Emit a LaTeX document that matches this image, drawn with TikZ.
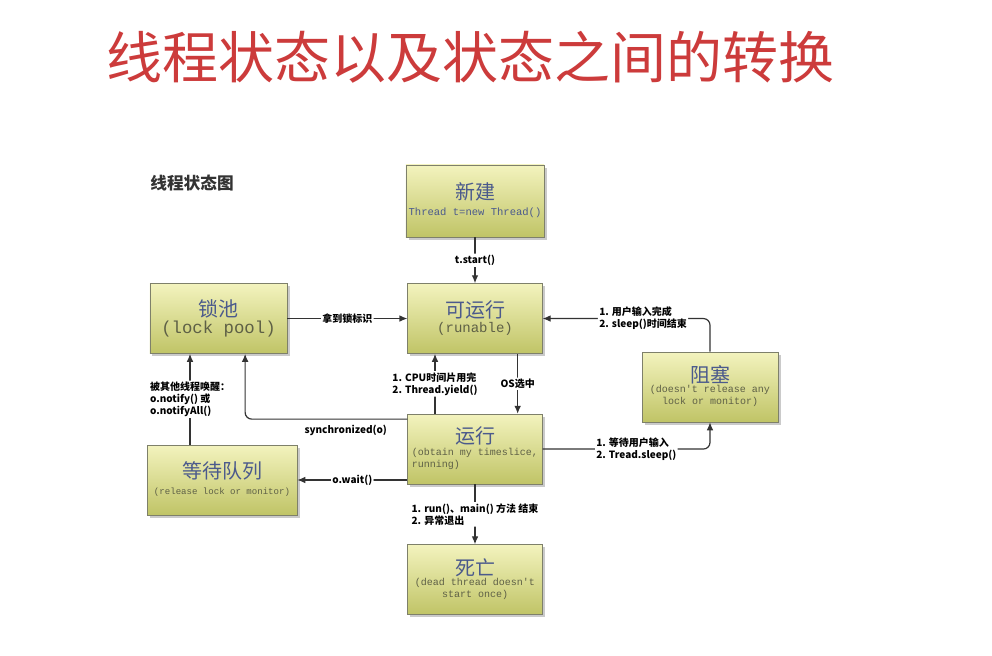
\documentclass[tikz,border=0pt]{standalone}
\usepackage{fontspec}
\setmainfont{Noto Sans CJK SC}
\setmonofont{Liberation Mono}
\usepackage{xcolor}
\usetikzlibrary{arrows.meta,positioning,shadows}
\definecolor{TitleRed}{HTML}{CC3B3B}
\definecolor{BoxTop}{HTML}{F3F3BE}
\definecolor{BoxBottom}{HTML}{C0C466}
\definecolor{BoxEdge}{HTML}{7E806A}
\definecolor{NameBlue}{HTML}{4B5A8C}
\definecolor{SubOlive}{HTML}{5E6046}

\newcommand\stname[1]{{\fontsize{15}{18}\selectfont\color{NameBlue}#1}}
\newcommand\stsub[2][7.5]{{\ttfamily\fontsize{#1}{9}\selectfont\color{SubOlive}\begin{tabular}{@{}c@{}}#2\end{tabular}}}

\begin{document}
\begin{tikzpicture}[
  x=0.75pt, y=-0.75pt,
  node distance=45pt and 90pt,
  state/.style={draw=BoxEdge, thin, top color=BoxTop, bottom color=BoxBottom, align=center,
    minimum width=101pt, minimum height=52.5pt, inner sep=2pt,
    drop shadow={shadow xshift=2pt, shadow yshift=-2pt, opacity=0.35, fill=black!60}},
  lbl/.style={font=\bfseries\fontsize{7.5}{9}\selectfont, fill=white, inner sep=1pt, align=left},
  arr/.style={-{Latex[length=6pt,width=5pt]}, line width=0.9pt, draw=black!80, rounded corners=5pt}
]
\useasboundingbox (0,0) rectangle (992,656);

% title
\node[text=TitleRed, font=\fontsize{42}{46}\selectfont] (title) at (470,57) {线程状态以及状态之间的转换};
\node[font=\bfseries\fontsize{12.5}{14}\selectfont, text=black!80] (caption) at (192,183) {线程状态图};

% states
\node[state, minimum height=54pt] (new) at (475,201) {\stname{新建}\\\stsub[7.9]{\color{NameBlue}Thread t=new Thread()}};
\node[state, below=34.5pt of new] (runnable) {\stname{可运行}\\\stsub[10.5]{(runable)}};
\node[state, left=of runnable, minimum width=103pt] (lockpool) {\stname{锁池}\\\stsub[13]{(lock pool)}};
\node[state, below=of runnable] (running) {\stname{运行}\\\stsub{\begin{tabular}{@{}l@{}}(obtain my timeslice,\\running)\end{tabular}}};
\node[state, below=of running] (dead) {\stname{死亡}\\\stsub{(dead thread doesn't\\start once)}};
\node[state, minimum width=112.5pt] (waitq) at (222,480) {\stname{等待队列}\\\stsub[6.8]{(release lock or monitor)}};
\node[state, minimum width=102pt] (blocked) at (710,387) {\stname{阻塞}\\\stsub{(doesn't release any\\lock or monitor)}};

% transitions
\draw[arr] (new) -- node[lbl] {t.start()} (runnable);
\draw[arr] (lockpool) -- node[lbl] {拿到锁标识} (runnable);
\draw[arr] ([xshift=32pt]runnable.south) -- node[lbl] {OS选中} ([xshift=32pt]running.north);
\draw[arr] ([xshift=-30pt]running.north) -- node[lbl] {1. CPU时间片用完\\2. Thread.yield()} ([xshift=-30pt]runnable.south);
\draw[arr] ([yshift=-4pt]running.north west) -| node[pos=0.19, below=3pt, lbl, fill=none] {synchronized(o)} ([xshift=20pt]lockpool.south);
\draw[arr] (running.west |- waitq.east) -- node[lbl] {o.wait()} (waitq.east);
\draw[arr] ([xshift=-24pt]waitq.north) -- node[lbl] {被其他线程唤醒：\\o.notify() 或\\o.notifyAll()} ([xshift=-24pt]waitq.north |- lockpool.south);
\draw[arr] (running.east) -| node[pos=0.28, lbl] {1. 等待用户输入\\2. Tread.sleep()} (blocked.south);
\draw[arr] (blocked.north) |- node[pos=0.7, lbl] {1. 用户输入完成\\2. sleep()时间结束} (runnable.east);
\draw[arr] (running) -- node[lbl] {1. run()、main() 方法 结束\\2. 异常退出} (dead);
\end{tikzpicture}
\end{document}
